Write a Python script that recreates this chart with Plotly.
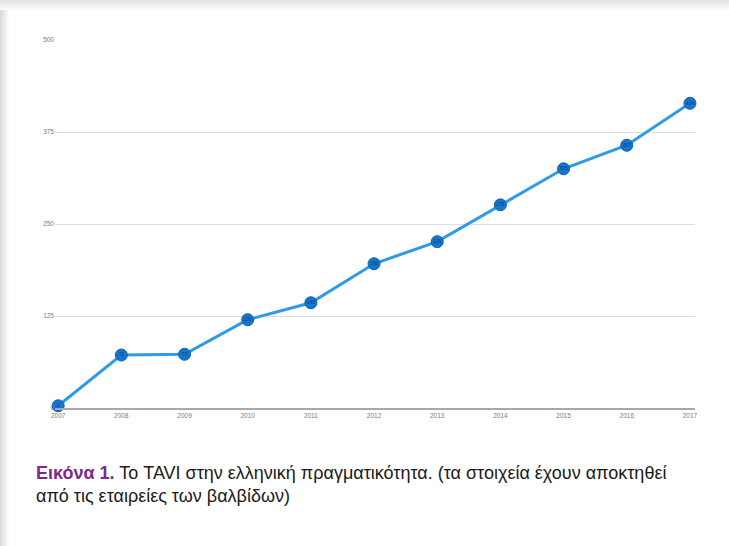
import plotly.graph_objects as go

# TAVI procedures per year in Greece
years = [2007, 2008, 2009, 2010, 2011, 2012, 2013, 2014, 2015, 2016, 2017]
procedures = [3, 72, 73, 120, 143, 196, 226, 276, 325, 357, 414]

y_ticks = [0, 125, 250, 375, 500]

W, H = 729, 546
L, R, T, B = 55, 34, 40, 138
PW, PH = W - L - R, H - T - B


def px_x(x):
    return (x - L) / PW


def px_y(y):
    return 1 - (y - T) / PH


fig = go.Figure()

fig.add_trace(go.Scatter(
    x=years, y=procedures,
    mode="lines+markers+text",
    line=dict(color="#2f9be8", width=3),
    marker=dict(size=12, color="#1576cf", line=dict(color="#0f5fae", width=1)),
    text=[str(v) for v in procedures],
    textposition="middle center",
    textfont=dict(size=5, color="#0b3d73", family="Liberation Sans"),
    cliponaxis=False,
    hoverinfo="x+y",
))

shapes = []
# soft shadow along the top and left edges of the card
for i in range(10):
    op = 0.25 * (1 - i / 10)
    shapes.append(dict(type="rect", xref="paper", yref="paper",
                       x0=px_x(0), x1=px_x(W), y0=px_y(i), y1=px_y(i + 1),
                       fillcolor="#8a8a8a", opacity=op, line=dict(width=0), layer="below"))
for i in range(9):
    op = 0.3 * (1 - i / 9)
    shapes.append(dict(type="rect", xref="paper", yref="paper",
                       x0=px_x(i), x1=px_x(i + 1), y0=px_y(10), y1=px_y(H),
                       fillcolor="#8a8a8a", opacity=op, line=dict(width=0), layer="below"))

fig.update_layout(
    width=W, height=H,
    margin=dict(l=L, r=R, t=T, b=B),
    paper_bgcolor="white",
    plot_bgcolor="white",
    showlegend=False,
    shapes=shapes,
    font=dict(family="Liberation Sans, Arial, sans-serif"),
    xaxis=dict(
        range=[2006.95, 2017.08],
        tickmode="array", tickvals=years, ticktext=[str(y) for y in years],
        tickfont=dict(size=6.5, color="#7a7a7a"),
        showgrid=False, zeroline=False,
        showline=True, linecolor="#a8a8a8", linewidth=2,
        ticks="", ticklen=0,
    ),
    yaxis=dict(
        range=[0, 500],
        tickmode="array", tickvals=y_ticks, ticktext=[str(v) for v in y_ticks],
        tickfont=dict(size=6.5, color="#7a7a7a"),
        showgrid=True, gridcolor="#dedede", gridwidth=1,
        zeroline=False, showline=False, ticks="",
    ),
    annotations=[
        dict(
            xref="paper", yref="paper", x=px_x(34), y=px_y(461),
            xanchor="left", yanchor="top", align="left", showarrow=False,
            text=("<span style='color:#7b2a8c'><b>Εικόνα 1.</b></span> Το TAVI στην ελληνική "
                  "πραγματικότητα. (τα στοιχεία έχουν αποκτηθεί<br>από τις εταιρείες των βαλβίδων)"),
            font=dict(size=18, color="#1a1a1a",
                      family="Liberation Sans Narrow, Arial Narrow, Liberation Sans, sans-serif"),
        )
    ],
)

fig.write_html("out.html")
